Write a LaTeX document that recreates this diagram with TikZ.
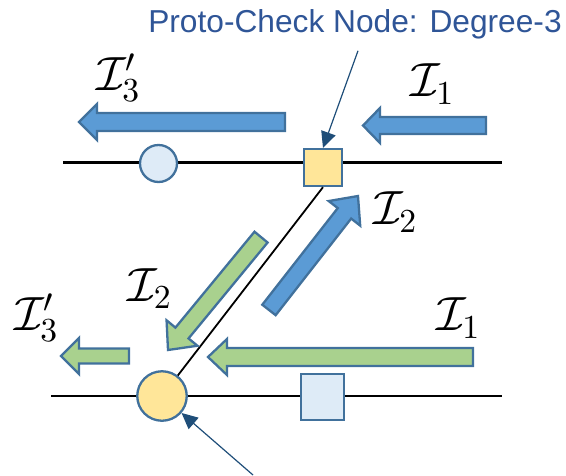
\documentclass[tikz,border=0pt]{standalone}
\usepackage{fontspec}
\newfontfamily\calloutfont{Liberation Sans}
% scalable math fonts for the big labels
\DeclareFontShape{OMS}{cmsy}{m}{n}{<->cmsy10}{}
\DeclareFontShape{OML}{cmm}{m}{it}{<->cmmi10}{}
\DeclareFontShape{OT1}{cmr}{m}{n}{<->cmr10}{}
\definecolor{arrowblue}{HTML}{5B9BD5}
\definecolor{edgeblue}{HTML}{41719C}
\definecolor{arrowgreen}{HTML}{A9D18E}
\definecolor{nodeyellow}{HTML}{FFE699}
\definecolor{nodelight}{HTML}{DEEBF7}
\definecolor{pointerblue}{HTML}{1F4E79}
\definecolor{textblue}{HTML}{2F5597}
\usetikzlibrary{arrows.meta,calc}

% fat message arrow: style, tip, angle, length, shaft half, head half, head length
\newcommand{\msgarrow}[7]{%
  \draw[#1, shift={#2}, rotate=#3] (0,0) -- (-#7,#6) -- (-#7,#5) -- (-#4,#5)
    -- (-#4,-#5) -- (-#7,-#5) -- (-#7,-#6) -- cycle;}

\begin{document}
\begin{tikzpicture}[
      x=1pt,
      y=-1pt,
      wire/.style={line width=2.6pt, black},
      edge/.style={line width=1.8pt, black},
      varnode/.style={circle, draw=edgeblue, line width=2.3pt, inner sep=0pt},
      checknode/.style={rectangle, draw=edgeblue, line width=2.3pt, inner sep=0pt},
      blueflow/.style={fill=arrowblue, draw=edgeblue, line width=2.3pt, line join=miter},
      greenflow/.style={fill=arrowgreen, draw=edgeblue, line width=2.3pt, line join=miter},
      msg/.style={font=\fontsize{48}{56}\selectfont, inner sep=0pt},
      pointer/.style={-{Triangle[length=16pt,width=15pt]}, line width=1.2pt, pointerblue}
    ]
    \useasboundingbox (0,0) rectangle (566,475);

    % the two lines
    \coordinate (tl) at (63,162.5);
    \coordinate (tr) at (502,162.5);
    \coordinate (bl) at (51,396);
    \coordinate (br) at (502,396);
    \draw[wire] (tl) -- (tr);
    \draw[wire] (bl) -- (br);

    % nodes
    \node[varnode, fill=nodelight, minimum size=37pt] (vt) at (158.5,163.5) {};
    \node[checknode, fill=nodeyellow, minimum width=37.5pt, minimum height=37pt] (ct) at (323,167.5) {};
    \node[varnode, fill=nodeyellow, minimum size=49.5pt] (vb) at (162,396) {};
    \node[checknode, fill=nodelight, minimum width=43pt, minimum height=45.5pt] (cb) at (322.5,397) {};

    \draw[edge] (ct.south) -- (vb);

    % messages
    \msgarrow{blueflow}{(79,122)}{180}{206}{9}{18}{18}
    \msgarrow{blueflow}{(363,125.5)}{180}{123}{8.5}{17.5}{17}
    \msgarrow{blueflow}{(358,196)}{52}{144.6}{8.5}{20}{22}
    \msgarrow{greenflow}{(168,350)}{230.5}{146.3}{8.5}{20}{22}
    \msgarrow{greenflow}{(61,356)}{180}{68}{7.5}{18}{18}
    \msgarrow{greenflow}{(208,357)}{180}{265}{9}{18}{19}

    \node[msg] (i3top) at (118,78) {$\mathcal{I}_3'$};
    \node[msg] (i1top) at (432,84) {$\mathcal{I}_1$};
    \node[msg] (i2up) at (395,212) {$\mathcal{I}_2$};
    \node[msg] (i2down) at (149.5,288.5) {$\mathcal{I}_2$};
    \node[msg] (i3bot) at (36,318) {$\mathcal{I}_3'$};
    \node[msg] (i1bot) at (458,318) {$\mathcal{I}_1$};

    % callouts
    \node[font=\calloutfont\fontsize{31.7}{38}\selectfont, text=textblue,
      anchor=base, inner sep=0pt] (pcn) at (355,32) {Proto-Check Node: Degree-3};
    \draw[pointer] ([xshift=3pt,yshift=-12pt]pcn.south) -- (ct.north);
    \coordinate (pv) at (253,475);
    \draw[pointer] (pv) -- (vb);
  \end{tikzpicture}
\end{document}
